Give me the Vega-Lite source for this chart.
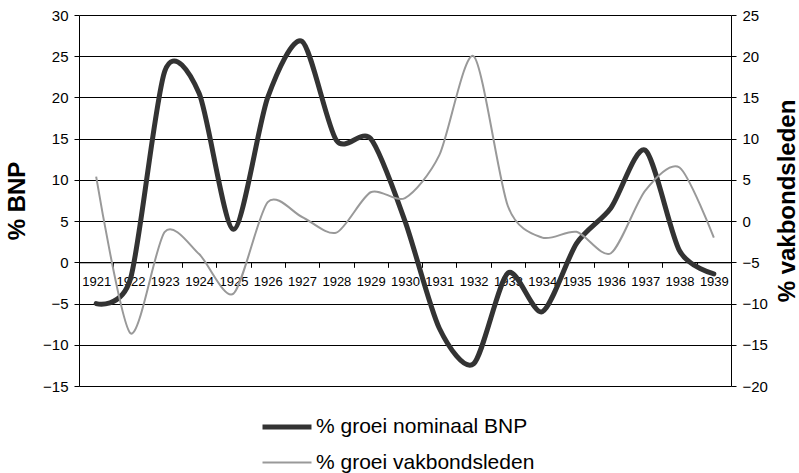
{
  "$schema": "https://vega.github.io/schema/vega-lite/v6.json",
  "width": 652,
  "height": 371,
  "autosize": "none",
  "padding": {"left": 79, "top": 15, "right": 68, "bottom": 87},
  "background": "#ffffff",
  "config": {
    "font": "Liberation Sans",
    "view": {"stroke": null},
    "axis": {"labelColor": "#000000", "titleColor": "#000000", "domainColor": "#000000", "tickColor": "#000000", "gridColor": "#000000", "gridOpacity": 1, "domainWidth": 1, "tickWidth": 1, "gridWidth": 1}
  },
  "data": {
    "values": [
      {"year": "1921", "series": "% groei nominaal BNP", "value": -5},
      {"year": "1922", "series": "% groei nominaal BNP", "value": -2},
      {"year": "1923", "series": "% groei nominaal BNP", "value": 23.2},
      {"year": "1924", "series": "% groei nominaal BNP", "value": 20.5},
      {"year": "1925", "series": "% groei nominaal BNP", "value": 4},
      {"year": "1926", "series": "% groei nominaal BNP", "value": 20},
      {"year": "1927", "series": "% groei nominaal BNP", "value": 26.8},
      {"year": "1928", "series": "% groei nominaal BNP", "value": 14.8},
      {"year": "1929", "series": "% groei nominaal BNP", "value": 15},
      {"year": "1930", "series": "% groei nominaal BNP", "value": 5},
      {"year": "1931", "series": "% groei nominaal BNP", "value": -8},
      {"year": "1932", "series": "% groei nominaal BNP", "value": -12.3},
      {"year": "1933", "series": "% groei nominaal BNP", "value": -1.3},
      {"year": "1934", "series": "% groei nominaal BNP", "value": -6},
      {"year": "1935", "series": "% groei nominaal BNP", "value": 2.3},
      {"year": "1936", "series": "% groei nominaal BNP", "value": 6.6},
      {"year": "1937", "series": "% groei nominaal BNP", "value": 13.6},
      {"year": "1938", "series": "% groei nominaal BNP", "value": 1.4},
      {"year": "1939", "series": "% groei nominaal BNP", "value": -1.4},
      {"year": "1921", "series": "% groei vakbondsleden", "value": 5.4},
      {"year": "1922", "series": "% groei vakbondsleden", "value": -13.6},
      {"year": "1923", "series": "% groei vakbondsleden", "value": -1.3},
      {"year": "1924", "series": "% groei vakbondsleden", "value": -4},
      {"year": "1925", "series": "% groei vakbondsleden", "value": -8.8},
      {"year": "1926", "series": "% groei vakbondsleden", "value": 2.3},
      {"year": "1927", "series": "% groei vakbondsleden", "value": 0.5},
      {"year": "1928", "series": "% groei vakbondsleden", "value": -1.4},
      {"year": "1929", "series": "% groei vakbondsleden", "value": 3.5},
      {"year": "1930", "series": "% groei vakbondsleden", "value": 2.8},
      {"year": "1931", "series": "% groei vakbondsleden", "value": 8},
      {"year": "1932", "series": "% groei vakbondsleden", "value": 20},
      {"year": "1933", "series": "% groei vakbondsleden", "value": 1.8},
      {"year": "1934", "series": "% groei vakbondsleden", "value": -2},
      {"year": "1935", "series": "% groei vakbondsleden", "value": -1.3},
      {"year": "1936", "series": "% groei vakbondsleden", "value": -3.9},
      {"year": "1937", "series": "% groei vakbondsleden", "value": 3.7},
      {"year": "1938", "series": "% groei vakbondsleden", "value": 6.5},
      {"year": "1939", "series": "% groei vakbondsleden", "value": -2}
    ]
  },
  "encoding": {
    "x": {
      "field": "year",
      "type": "ordinal",
      "bandPosition": 0.5,
      "scale": {"type": "band", "paddingInner": 0, "paddingOuter": 0},
      "axis": {"title": null, "offset": -123.7, "tickBand": "extent", "labelAngle": 0, "labelFontSize": 13, "labelPadding": 8, "tickSize": 5, "grid": false, "labelOverlap": false}
    },
    "color": {
      "field": "series",
      "type": "nominal",
      "scale": {"domain": ["% groei nominaal BNP", "% groei vakbondsleden"], "range": ["#333333", "#999999"]},
      "legend": {"title": null, "orient": "none", "legendX": 181, "legendY": 385, "direction": "vertical", "symbolType": "stroke", "symbolSize": 2400, "labelFontSize": 21, "labelColor": "#000000", "labelLimit": 500, "rowPadding": -12, "labelOffset": 2}
    },
    "strokeWidth": {
      "field": "series",
      "type": "nominal",
      "scale": {"domain": ["% groei nominaal BNP", "% groei vakbondsleden"], "range": [5, 2]},
      "legend": {"title": null, "orient": "none", "legendX": 181, "legendY": 385, "direction": "vertical", "symbolType": "stroke", "symbolSize": 2400, "labelFontSize": 21, "labelColor": "#000000", "labelLimit": 500, "rowPadding": -12, "labelOffset": 2}
    }
  },
  "layer": [
    {
      "transform": [{"filter": "datum.series === '% groei nominaal BNP'"}],
      "mark": {"type": "line", "interpolate": "cardinal", "tension": 0.2, "strokeCap": "round"},
      "encoding": {
        "y": {
          "field": "value",
          "type": "quantitative",
          "scale": {"domain": [-15, 30], "nice": false, "zero": false},
          "axis": {"orient": "left", "values": [-15, -10, -5, 0, 5, 10, 15, 20, 25, 30], "grid": true, "tickSize": 5, "labelFontSize": 15, "labelPadding": 6, "title": "% BNP", "titleFontSize": 24, "titleFontWeight": "bold", "titleAngle": 270, "titlePadding": 13}
        }
      }
    },
    {
      "transform": [{"filter": "datum.series === '% groei vakbondsleden'"}],
      "mark": {"type": "line", "interpolate": "cardinal", "tension": 0.2},
      "encoding": {
        "y": {
          "field": "value",
          "type": "quantitative",
          "scale": {"domain": [-20, 25], "nice": false, "zero": false},
          "axis": {"orient": "right", "values": [-20, -15, -10, -5, 0, 5, 10, 15, 20, 25], "grid": false, "tickSize": 5, "labelFontSize": 15, "labelPadding": 6, "title": "% vakbondsleden", "titleFontSize": 24, "titleFontWeight": "bold", "titleAngle": 270, "titlePadding": 32}
        }
      }
    }
  ],
  "resolve": {"scale": {"y": "independent"}}
}
